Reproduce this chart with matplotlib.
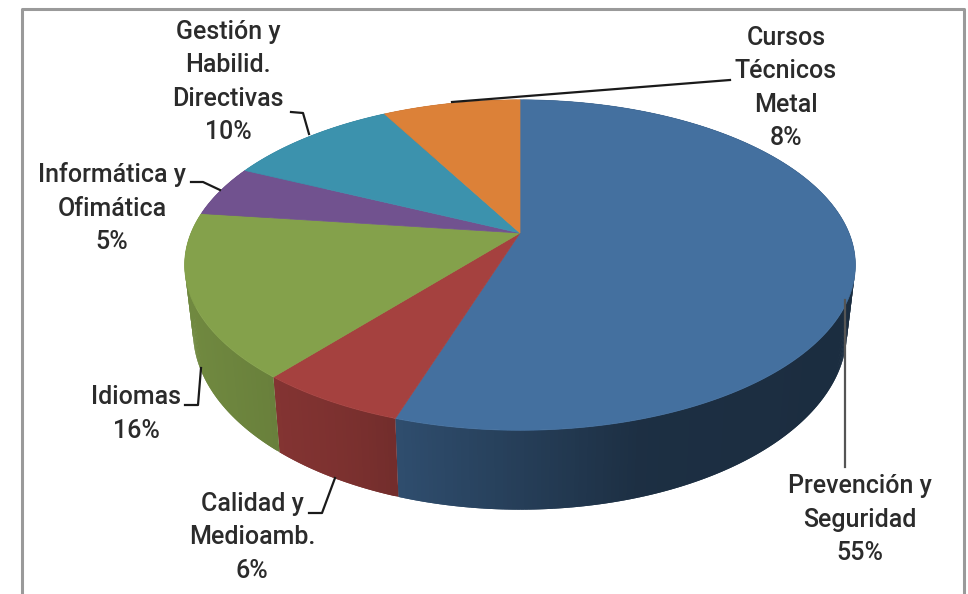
import numpy as np
import matplotlib
matplotlib.use("Agg")
import matplotlib.pyplot as plt
from matplotlib.patches import Polygon

# =========================================================
# DATA
# =========================================================

labels = ["Prevención y\nSeguridad\n55%", "Calidad y\nMedioamb.\n6%", "Idiomas\n16%",
          "Informática y\nOfimática\n5%", "Gestión y\nHabilid.\nDirectivas\n10%",
          "Cursos\nTécnicos\nMetal\n8%"]
values = [55, 6, 16, 5, 10, 8]
colors = ["#44709F", "#A5413F", "#84A14B", "#71528F", "#3C92AD", "#DC8138"]

# =========================================================
# PIE GEOMETRY (perspective view, pixel units)
# =========================================================

CX, CY = 520, 233
A, B, K = 329, 159, 0.194
DEPTH = 64
BOTTOM_SHRINK = 0.975


def project(theta, depth=0.0, shrink=1.0):
    u, v = np.sin(theta), np.cos(theta)
    w = 1 + K * v
    return CX + shrink * A * u / w, CY - B * v / w + depth / w


def side_shade(x):
    return np.interp(x, [190, 340, 405, 640, 850], [0.85, 0.75, 0.68, 0.42, 0.40])


fig = plt.figure(figsize=(9.68, 5.94), dpi=100)
ax = fig.add_axes([0, 0, 1, 1])
ax.set_xlim(0, 968)
ax.set_ylim(594, 0)
ax.axis("off")

# frame, cut by the bottom of the picture
ax.plot([22, 22, 964, 964], [594, 9, 9, 594], color="#9a9a9a", lw=2.2, zorder=1)

bounds = np.cumsum([0] + values) / sum(values) * 2 * np.pi

# side wall first, then the top surface over it
# each strip runs on past the next step so no seam shows between strips
for i, col in enumerate(colors):
    rgb = np.array(matplotlib.colors.to_rgb(col))
    steps = np.linspace(bounds[i], bounds[i + 1], max(values[i] * 6, 12))
    dt = steps[1] - steps[0]
    for t0 in steps[:-1]:
        t1 = t0 + 2 * dt if t0 + 2 * dt <= bounds[i + 1] else t0 + dt
        x0, y0 = project(t0)
        x1, y1 = project(t1)
        x2, y2 = project(t1, DEPTH, BOTTOM_SHRINK)
        x3, y3 = project(t0, DEPTH, BOTTOM_SHRINK)
        c = rgb * side_shade((x0 + x1) / 2)
        ax.add_patch(Polygon([(x0, y0), (x1, y1), (x2, y2), (x3, y3)],
                             facecolor=c, edgecolor="none", zorder=2))

for i, col in enumerate(colors):
    steps = np.linspace(bounds[i], bounds[i + 1], max(values[i] * 6, 12))
    px, py = project(steps)
    pts = [(CX, CY)] + list(zip(px, py))
    ax.add_patch(Polygon(pts, facecolor=col, edgecolor=col, lw=0.5, zorder=3))

# =========================================================
# LABELS AND LEADER LINES
# =========================================================

label_pos = [(860, 520), (252, 537), (136, 414), (112, 208), (228, 82), (786, 88)]
leaders = [
    ([845, 845], [300, 467]),
    ([309, 322, 335], [513, 513, 478]),
    ([185, 198, 201], [405, 405, 368]),
    ([191, 203, 220], [182, 182, 190]),
    ([291, 303, 309], [112, 113, 134]),
    ([452, 730], [102, 80]),
]

for (x, y), txt in zip(label_pos, labels):
    ax.text(x, y, txt, ha="center", va="center", family="Roboto", fontsize=18,
            weight="medium", color="#2b2b2b", linespacing=1.5, zorder=5)

for n, (lx, ly) in enumerate(leaders):
    ax.plot(lx, ly, color="#555555" if n == 0 else "#1a1a1a", lw=1.6, zorder=4)

plt.savefig("out.png", dpi=100)
plt.close()
